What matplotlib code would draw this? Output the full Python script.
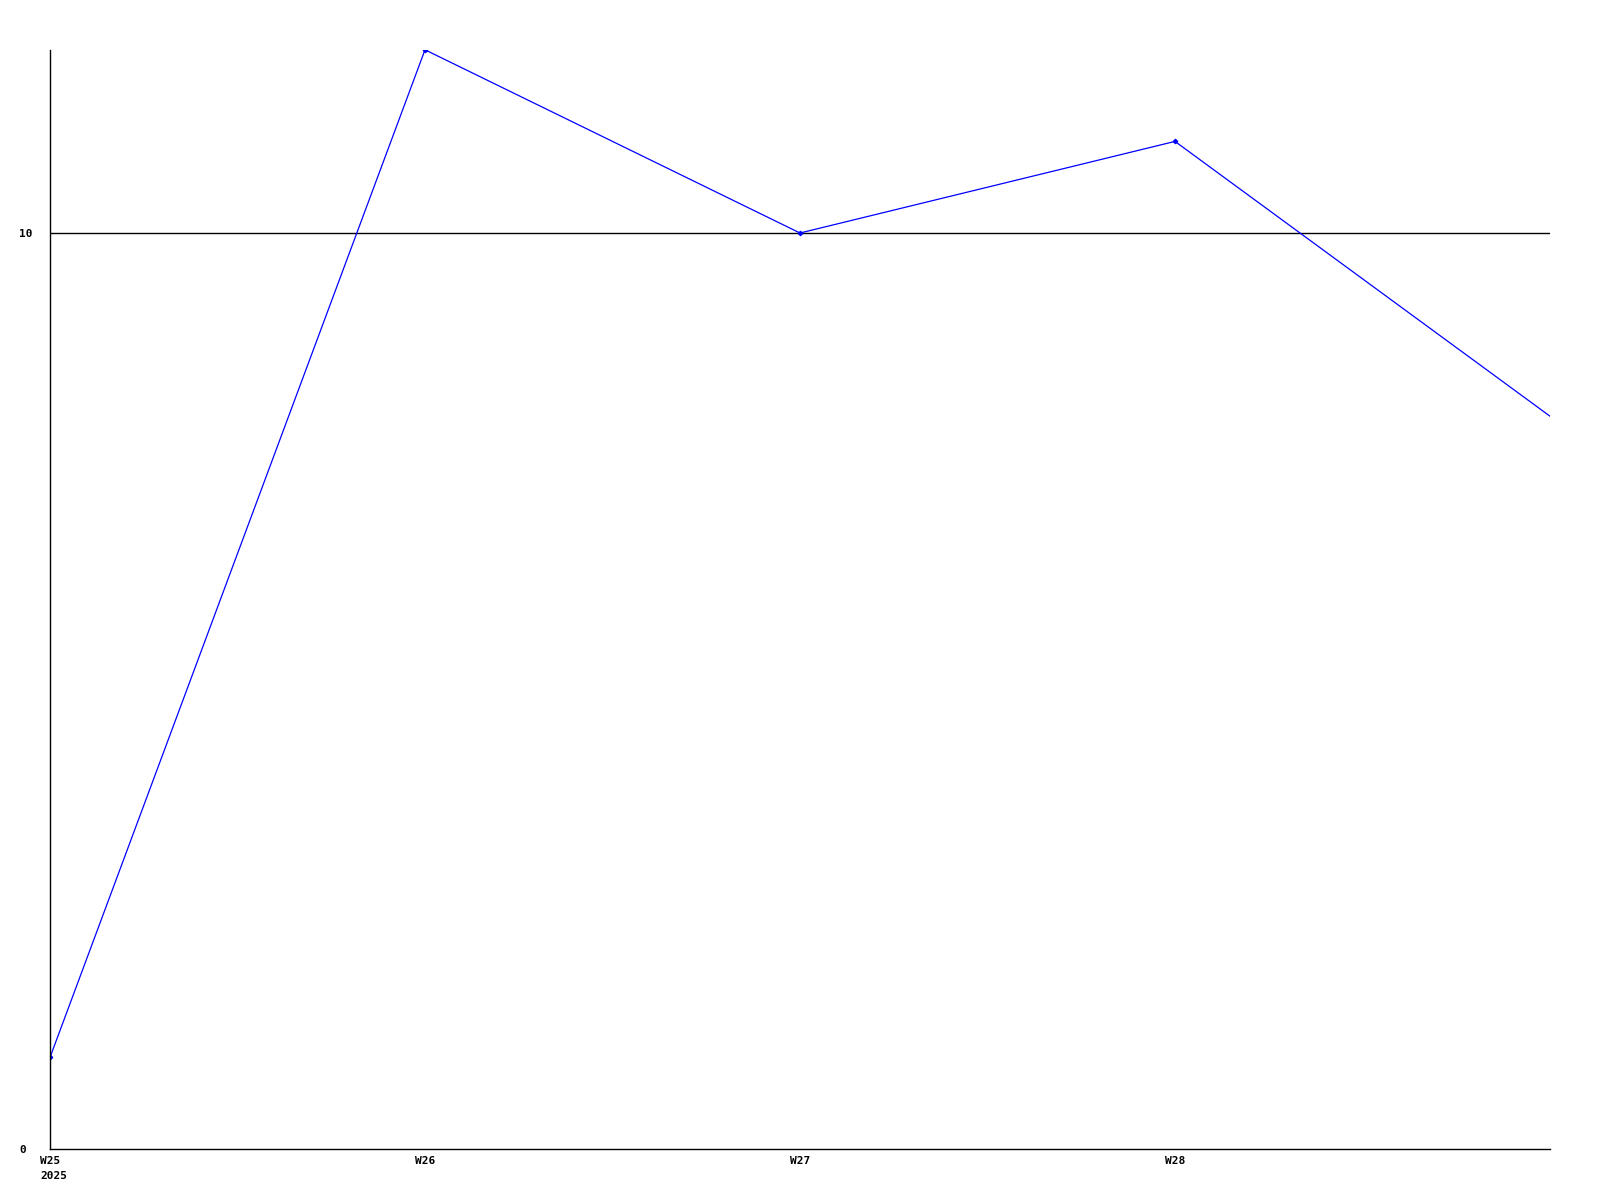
import matplotlib
matplotlib.use("Agg")
import matplotlib.pyplot as plt
import matplotlib.transforms as mtransforms

# weekly values
weeks = [0, 1, 2, 3, 4]
values = [1, 12, 10, 11, 8]
week_labels = ["W25\n2025", "W26", "W27", "W28"]
y_ticks = [0, 10]

fig = plt.figure(figsize=(16, 12), dpi=100)
ax = fig.add_axes([0.03125, 0.0425, 0.9375, 0.916])

ax.axhline(10, color="black", linewidth=1)
ax.plot(weeks, values, color="#0000ff", linewidth=0.9, marker="D", markersize=2.2,
        markevery=[0, 1, 2, 3])

ax.set_xlim(0, 4)
ax.set_ylim(0, 12)
ax.set_xticks(weeks[:4])
ax.set_xticklabels(week_labels, ha="left", family="DejaVu Sans Mono",
                   fontweight="bold", fontsize=8, linespacing=1.65)
ax.set_yticks(y_ticks)
ax.set_yticklabels([str(v) for v in y_ticks], ha="left", family="DejaVu Sans Mono",
                   fontweight="bold", fontsize=8)
ax.tick_params(axis="y", length=0, pad=22)
ax.tick_params(axis="x", length=0, pad=5)
for s in ["top", "right"]:
    ax.spines[s].set_visible(False)
for s in ["left", "bottom"]:
    ax.spines[s].set_linewidth(1)
    ax.spines[s].set_color("black")

# shift x labels a little left like the original
offset = mtransforms.ScaledTranslation(-10 / 100, 0, fig.dpi_scale_trans)
for lbl in ax.get_xticklabels():
    lbl.set_transform(lbl.get_transform() + offset)

fig.savefig("out.png", dpi=100)
